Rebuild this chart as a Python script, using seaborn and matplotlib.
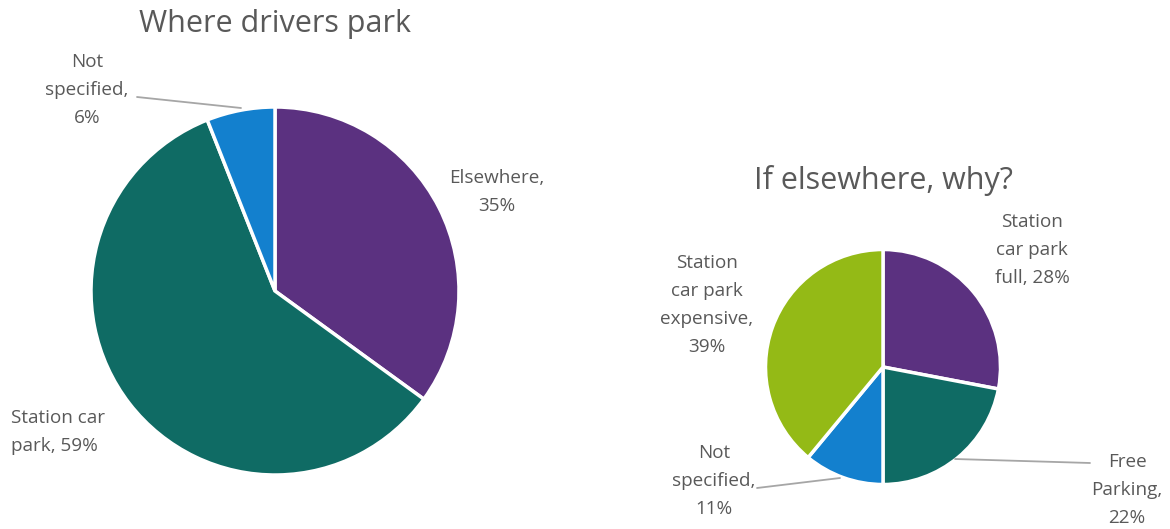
import matplotlib
matplotlib.use("Agg")
import matplotlib.pyplot as plt
import seaborn as sns

# ---- data ----
left_title = "Where drivers park"
left_names = ["Elsewhere,", "Station car\npark,", "Not\nspecified,"]
left_values = [35, 59, 6]

right_title = "If elsewhere, why?"
right_names = ["Station\ncar park\nfull,", "Free\nParking,", "Not\nspecified,", "Station\ncar park\nexpensive,"]
right_values = [28, 22, 11, 39]

sns.set_theme(style="white")
plt.rcParams['font.family'] = ['Open Sans', 'DejaVu Sans']

purple = "#5B3180"
teal = "#0F6B64"
blue = "#1380CE"
green = "#94BA16"
left_colors = [purple, teal, blue]
right_colors = [purple, teal, blue, green]
txt = "#595959"

W, H = 1170, 529
fig = plt.figure(figsize=(W / 100, H / 100), dpi=100)
ax = fig.add_axes([0, 0, 1, 1])

def Y(y):
    return H - y

wp = dict(edgecolor="white", linewidth=2.5)
ax.pie(left_values, colors=left_colors, startangle=90, counterclock=False,
       center=(275, Y(291)), radius=184, wedgeprops=wp, frame=True)
ax.pie(right_values, colors=right_colors, startangle=90, counterclock=False,
       center=(883, Y(367)), radius=117.5, wedgeprops=wp, frame=True)

ax.set_xlim(0, W)
ax.set_ylim(0, H)
ax.set_aspect("auto")
ax.axis("off")

fs = 13.6
ls = 1.72

def lab(name, v, sep="\n"):
    return f"{name}{sep}{v}%"

# left labels
ax.text(497, Y(192), lab(left_names[0], left_values[0]), ha="center", va="center",
        fontsize=fs, color=txt, linespacing=ls)
ax.text(11, Y(432), lab(left_names[1], left_values[1], " "), ha="left", va="center",
        fontsize=fs, color=txt, linespacing=ls)
ax.text(87, Y(90), lab(left_names[2], left_values[2]), ha="center", va="center",
        fontsize=fs, color=txt, linespacing=ls)
ax.plot([137, 241], [Y(97), Y(108)], color="#A6A6A6", lw=1.3)

# right labels
ax.text(1032, Y(250), lab(right_names[0], right_values[0], " "), ha="center", va="center",
        fontsize=fs, color=txt, linespacing=ls)
ax.text(1127, Y(490), lab(right_names[1], right_values[1]), ha="center", va="center",
        fontsize=fs, color=txt, linespacing=ls)
ax.plot([955, 1090], [Y(459), Y(463)], color="#A6A6A6", lw=1.3)
ax.text(714, Y(481), lab(right_names[2], right_values[2]), ha="center", va="center",
        fontsize=fs, color=txt, linespacing=ls)
ax.plot([757, 840], [Y(488), Y(478)], color="#A6A6A6", lw=1.3)
ax.text(707, Y(305), lab(right_names[3], right_values[3]), ha="center", va="center",
        fontsize=fs, color=txt, linespacing=ls)

# titles
ax.text(275, Y(24), left_title, ha="center", va="center", fontsize=22, color=txt)
ax.text(884, Y(180), right_title, ha="center", va="center", fontsize=22, color=txt)

fig.savefig("out.png", dpi=100, facecolor="white")
